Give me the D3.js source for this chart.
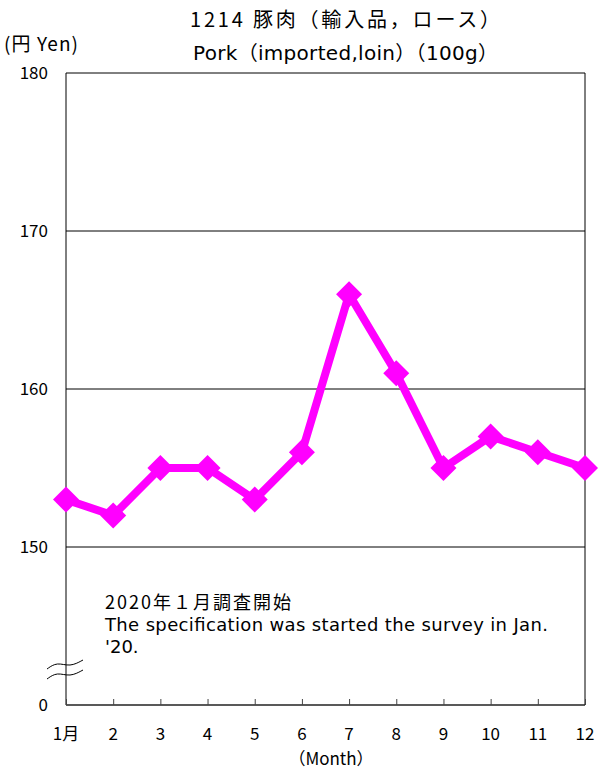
<!DOCTYPE html>
<html>
<head>
<meta charset="utf-8">
<script src="https://cdn.jsdelivr.net/npm/d3@7"></script>
<style>
  body { margin: 0; background: white; }
  text { font-family: "Noto Sans CJK JP", "Noto Sans", sans-serif; fill: #000; }
  text.wide { font-family: "DejaVu Sans", "Noto Sans CJK JP", sans-serif; }
</style>
</head>
<body>
<div class="chart-area"></div>
<script>
// Data
var months = ["1月", "2", "3", "4", "5", "6", "7", "8", "9", "10", "11", "12"];
var prices = [153, 152, 155, 155, 153, 156, 166, 161, 155, 157, 156, 155];
var yTicks = [140, 150, 160, 170, 180];
var yTickLabels = ["0", "150", "160", "170", "180"];

var svg = d3.select(".chart-area").append("svg")
    .attr("width", 599)
    .attr("height", 772);

var plotLeft = 66, plotRight = 585, plotTop = 73, plotBottom = 705;

// scales
var x = d3.scalePoint()
    .domain(months)
    .range([plotLeft, plotRight]);

// 140 stands for the axis break, drawn as "0"
var y = d3.scaleLinear()
    .domain([140, 180])
    .range([plotBottom, plotTop]);

// gridlines
svg.selectAll("line.grid")
    .data([150, 160, 170, 180])
    .enter()
    .append("line")
    .attr("x1", plotLeft)
    .attr("x2", plotRight)
    .attr("y1", function(d) { return y(d); })
    .attr("y2", function(d) { return y(d); })
    .attr("stroke", "#000")
    .attr("stroke-width", 1);

// left and right borders
svg.append("line")
    .attr("x1", plotLeft).attr("x2", plotLeft)
    .attr("y1", plotTop).attr("y2", plotBottom)
    .attr("stroke", "#000");
svg.append("line")
    .attr("x1", plotRight).attr("x2", plotRight)
    .attr("y1", plotTop).attr("y2", plotBottom)
    .attr("stroke", "#000");

// x axis with inner ticks
var xAxis = svg.append("g")
    .attr("transform", "translate(0," + plotBottom + ")")
    .call(d3.axisTop(x).tickSize(6).tickFormat(""));
xAxis.select(".domain").attr("stroke", "#222").attr("stroke-width", 1.5)
    .attr("d", "M" + plotLeft + ",0H" + plotRight);
xAxis.selectAll(".tick line").attr("stroke", "#444");

// x labels
svg.selectAll("text.xlab")
    .data(months)
    .enter()
    .append("text")
    .attr("class", "xlab")
    .attr("x", function(d) { return x(d); })
    .attr("y", 740)
    .attr("text-anchor", "middle")
    .style("font-size", "17px")
    .text(function(d) { return d; });

svg.append("text")
    .attr("x", 331)
    .attr("y", 765)
    .attr("text-anchor", "middle")
    .style("font-size", "17px")
    .text("（Month）");

// y labels
svg.selectAll("text.ylab")
    .data(yTicks)
    .enter()
    .append("text")
    .attr("class", "ylab")
    .attr("x", 48)
    .attr("y", function(d) { return y(d) + 6; })
    .attr("text-anchor", "end")
    .style("font-size", "17px")
    .text(function(d, i) { return yTickLabels[i]; });

// axis break marks
var breakLine = d3.line().curve(d3.curveBasis);
[665, 675].forEach(function(yy) {
    svg.append("path")
        .attr("d", breakLine([[47, yy + 4], [57, yy - 3], [70, yy + 2], [83, yy - 5]]))
        .attr("fill", "none")
        .attr("stroke", "#000")
        .attr("stroke-width", 1);
});

// titles
svg.append("text")
    .attr("x", 190)
    .attr("y", 27)
    .style("font-size", "20px")
    .attr("textLength", 310)
    .attr("lengthAdjust", "spacing")
    .text("1214 豚肉（輸入品，ロース）");
svg.append("text")
    .attr("class", "wide")
    .attr("x", 193)
    .attr("y", 60)
    .style("font-size", "20px")
    .attr("textLength", 305)
    .attr("lengthAdjust", "spacing")
    .text("Pork（imported,loin）（100g）");
svg.append("text")
    .attr("x", 4)
    .attr("y", 51)
    .style("font-size", "19px")
    .attr("textLength", 74)
    .attr("lengthAdjust", "spacing")
    .text("(円 Yen)");

// annotation
svg.append("text")
    .attr("x", 105)
    .attr("y", 609)
    .style("font-size", "18px")
    .attr("textLength", 186)
    .attr("lengthAdjust", "spacing")
    .text("2020年１月調査開始");
svg.append("text")
    .attr("class", "wide")
    .attr("x", 105)
    .attr("y", 631)
    .style("font-size", "18px")
    .attr("textLength", 443)
    .attr("lengthAdjust", "spacing")
    .text("The specification was started the survey in Jan.");
svg.append("text")
    .attr("class", "wide")
    .attr("x", 105)
    .attr("y", 653)
    .style("font-size", "18px")
    .text("'20.");

// line
var line = d3.line()
    .x(function(d, i) { return x(months[i]); })
    .y(function(d) { return y(d); });

svg.append("path")
    .datum(prices)
    .attr("d", line)
    .attr("fill", "none")
    .attr("stroke", "#FF00FF")
    .attr("stroke-width", 8)
    .attr("stroke-linejoin", "round");

// diamond markers
svg.selectAll("path.marker")
    .data(prices)
    .enter()
    .append("path")
    .attr("class", "marker")
    .attr("transform", function(d, i) { return "translate(" + x(months[i]) + "," + y(d) + ")"; })
    .attr("d", "M0,-13L13,0L0,13L-13,0Z")
    .attr("fill", "#FF00FF");
</script>
</body>
</html>
